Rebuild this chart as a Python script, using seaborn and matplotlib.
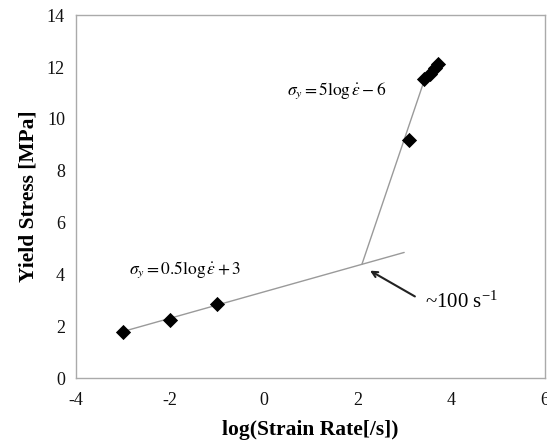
import pandas as pd
import seaborn as sns
import matplotlib.pyplot as plt

# measured yield stress points
log_rate = [-3.0, -2.0, -1.0, 3.1, 3.42, 3.55, 3.65, 3.72]
yield_stress = [1.8, 2.25, 2.85, 9.2, 11.55, 11.75, 11.95, 12.1]

# fitted lines (end points)
low_fit_x = [-3.0, 3.0]
low_fit_y = [1.8, 4.85]
high_fit_x = [2.1, 3.45]
high_fit_y = [4.4, 11.6]

x_ticks = [-4, -2, 0, 2, 4, 6]
y_ticks = [0, 2, 4, 6, 8, 10, 12, 14]

sns.set_style("white")
plt.rcParams['font.family'] = ['Liberation Serif', 'DejaVu Serif']
plt.rcParams['mathtext.fontset'] = 'stix'
plt.rcParams['axes.unicode_minus'] = False
plt.rcParams['text.color'] = 'black'
plt.rcParams['axes.labelcolor'] = 'black'

fig = plt.figure(figsize=(5.47, 4.46), dpi=100)
ax = fig.add_axes([0.139, 0.152, 0.857, 0.814])

data = pd.DataFrame({"x": log_rate, "y": yield_stress})
low = pd.DataFrame({"x": low_fit_x, "y": low_fit_y})
high = pd.DataFrame({"x": high_fit_x, "y": high_fit_y})

sns.lineplot(data=low, x="x", y="y", ax=ax, color="#9a9a9a", linewidth=1.0)
sns.lineplot(data=high, x="x", y="y", ax=ax, color="#9a9a9a", linewidth=1.0)
sns.scatterplot(data=data, x="x", y="y", ax=ax, marker="D", s=60,
                color="black", edgecolor="black", linewidth=0, zorder=3)

ax.set_xlim(-4, 6)
ax.set_ylim(0, 14)
ax.set_xticks(x_ticks)
ax.set_yticks(y_ticks)
ax.tick_params(axis="both", direction="out", length=4, width=0.8,
               color="#999999", labelcolor="#111111", labelsize=13, pad=4)
ax.tick_params(axis="x", pad=6)
for s in ax.spines.values():
    s.set_color("#aaaaaa")
    s.set_linewidth(1.0)

ax.set_xlabel("log(Strain Rate[/s])", fontsize=15.5, fontweight="bold", labelpad=8)
ax.set_ylabel("Yield Stress [MPa]", fontsize=15.5, fontweight="bold", labelpad=6)

ax.text(0.5, 11.1, r"$\sigma_y = 5\log\dot{\varepsilon} - 6$", fontsize=12.5, va="center")
ax.text(-2.86, 4.17, r"$\sigma_y = 0.5\log\dot{\varepsilon} + 3$", fontsize=12.5, va="center")
ax.annotate("", xy=(2.22, 4.2), xytext=(3.28, 3.1),
            arrowprops=dict(arrowstyle="->", color="#222222", lw=1.5))
ax.text(3.45, 2.93, r"~100 s$^{\mathregular{-1}}$", fontsize=15, va="center")

fig.savefig("out.png", dpi=100)
